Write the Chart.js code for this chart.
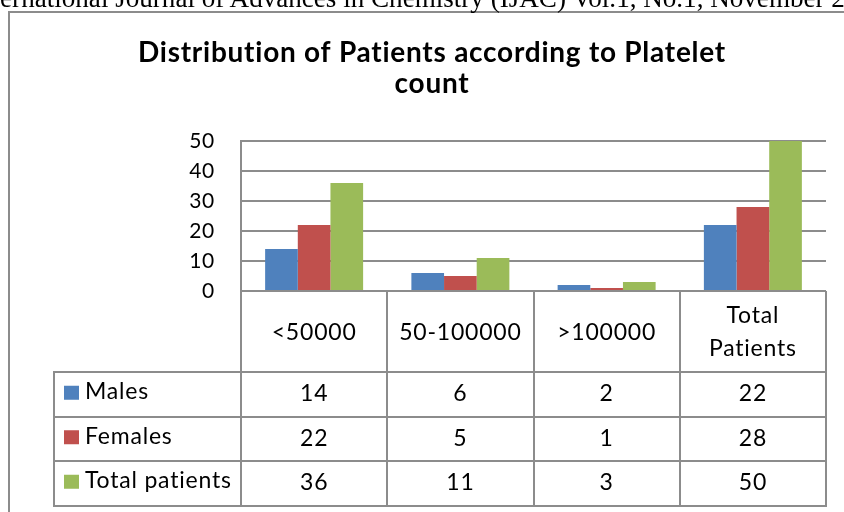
<!DOCTYPE html>
<html>
<head>
<meta charset="utf-8">
<script src="https://cdn.jsdelivr.net/npm/chart.js@4.4.0/dist/chart.umd.min.js"></script>
<style>
    html, body { margin: 0; padding: 0; background: #fff; overflow: hidden; }
    #pagina { position: relative; width: 844px; height: 512px; overflow: hidden; }
    #cabecalho {
        position: absolute; left: -30px; top: -17px;
        font-family: "Liberation Serif", serif; font-size: 27.1px; line-height: 30px;
        white-space: nowrap; color: #000; z-index: 2;
    }
    #grafico { position: absolute; left: 0; top: 0; }
</style>
</head>
<body>
<div id="pagina">
    <div id="cabecalho">International Journal of Advances in Chemistry (IJAC) Vol.1, No.1, November 2013</div>
    <canvas id="grafico" width="844" height="512"></canvas>
</div>
<script>
const categorias = ["<50000", "50-100000", ">100000", ["Total", "Patients"]];
const series = ["Males", "Females", "Total patients"];
const males = [14, 6, 2, 22];
const females = [22, 5, 1, 28];
const totalPatients = [36, 11, 3, 50];
const yTicks = [0, 10, 20, 30, 40, 50];
const cores = ["#4F81BD", "#C0504D", "#9BBB59"];

const cinza = "#8c8c8c";

// draws the outer frame and the data table under the plot
const tabelaPlugin = {
    id: "tabela",

    beforeDraw(chart) {
        const ctx = chart.ctx;
        ctx.save();
        ctx.strokeStyle = cinza;
        ctx.lineWidth = 2;
        ctx.beginPath();
        ctx.moveTo(9, 530);
        ctx.lineTo(9, 12);
        ctx.lineTo(860, 12);
        ctx.stroke();
        ctx.restore();
        // a little spacing keeps Lato from joining "ti" and widens it towards Calibri
        ctx.letterSpacing = "0.75px";
    },

    afterDraw(chart) {
        const ctx = chart.ctx;
        const area = chart.chartArea;
        const x = chart.scales.x;
        const n = chart.data.labels.length;
        const colW = (area.right - area.left) / n;
        const headTop = area.bottom;
        const headH = 81;
        const rowH = 44.5;
        const tabLeft = 54;
        const rowsTop = headTop + headH;
        const sets = chart.data.datasets;
        const bottom = rowsTop + sets.length * rowH;

        ctx.save();
        ctx.strokeStyle = cinza;
        ctx.lineWidth = 2;
        ctx.beginPath();
        for (let i = 0; i <= n; i++) {
            const xx = Math.round(area.left + i * colW);
            ctx.moveTo(xx, headTop);
            ctx.lineTo(xx, bottom);
        }
        ctx.moveTo(tabLeft, rowsTop);
        ctx.lineTo(tabLeft, bottom);
        for (let r = 0; r <= sets.length; r++) {
            const yy = Math.round(rowsTop + r * rowH);
            ctx.moveTo(tabLeft - 1, yy);
            ctx.lineTo(area.right + 1, yy);
        }
        ctx.stroke();

        ctx.fillStyle = "#000";
        ctx.font = "23px Lato";
        ctx.letterSpacing = "0.8px";
        ctx.textAlign = "center";
        ctx.textBaseline = "alphabetic";

        const headMid = headTop + headH / 2;
        chart.data.labels.forEach(function (lab, i) {
            const cx = x.getPixelForValue(i);
            const linhas = Array.isArray(lab) ? lab : [lab];
            const step = 33;
            const first = headMid + 8 - (linhas.length - 1) * step / 2;
            linhas.forEach(function (l, k) {
                ctx.fillText(l, cx, first + k * step);
            });
        });

        sets.forEach(function (ds, r) {
            const mid = rowsTop + r * rowH + rowH / 2;
            ctx.fillStyle = ds.backgroundColor;
            ctx.fillRect(64, mid - 8.5, 15, 14);
            ctx.fillStyle = "#000";
            ctx.textAlign = "left";
            ctx.fillText(ds.label, 85, mid + 5);
            ctx.textAlign = "center";
            ds.data.forEach(function (v, i) {
                ctx.fillText(String(v), x.getPixelForValue(i), mid + 7);
            });
        });

        ctx.restore();
    }
};

const canvas = document.getElementById("grafico");

new Chart(canvas, {

    type: "bar",

    data: {
        labels: categorias,
        datasets: [
            { label: series[0], data: males, backgroundColor: cores[0] },
            { label: series[1], data: females, backgroundColor: cores[1] },
            { label: series[2], data: totalPatients, backgroundColor: cores[2] }
        ]
    },

    options: {
        responsive: false,
        animation: false,
        layout: {
            padding: { left: 38, right: 18, top: 0, bottom: 221 }
        },
        datasets: {
            bar: { barPercentage: 1, categoryPercentage: 0.67, borderWidth: 0 }
        },
        plugins: {
            legend: { display: false },
            tooltip: { enabled: false },
            title: {
                display: true,
                text: ["Distribution of Patients according to Platelet", "count"],
                color: "#000",
                font: { family: "Lato", size: 28, weight: "bold", lineHeight: 31 / 28 },
                padding: { top: 37, bottom: 42 }
            }
        },
        scales: {
            x: {
                display: false
            },
            y: {
                min: 0,
                max: 50,
                afterBuildTicks: function (scale) {
                    scale.ticks = yTicks.map(function (v) { return { value: v }; });
                },
                afterFit: function (scale) {
                    scale.width = 241 - 38;
                },
                ticks: {
                    padding: 26,
                    color: "#000",
                    font: { family: "Lato", size: 21 }
                },
                grid: { color: cinza, lineWidth: 2, drawTicks: false },
                border: { display: true, color: cinza, width: 2 }
            }
        }
    },

    plugins: [tabelaPlugin]
});
</script>
</body>
</html>
